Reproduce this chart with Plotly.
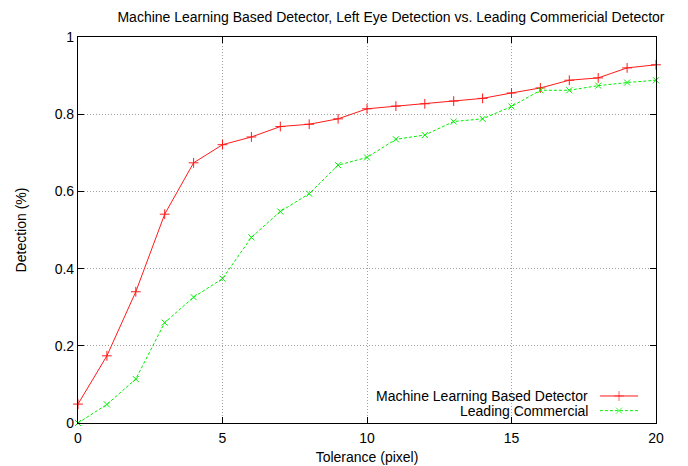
import plotly.graph_objects as go

# Tolerance in pixels and detection rates for each detector
tolerance = list(range(0, 21))
ml_detector = [0.049, 0.174, 0.340, 0.541, 0.674, 0.721, 0.741, 0.768, 0.774, 0.788,
               0.814, 0.821, 0.827, 0.834, 0.841, 0.855, 0.868, 0.888, 0.894, 0.920, 0.928]
commercial = [0.000, 0.048, 0.114, 0.260, 0.326, 0.374, 0.481, 0.548, 0.594, 0.668,
              0.688, 0.735, 0.746, 0.781, 0.788, 0.820, 0.862, 0.862, 0.874, 0.882, 0.888]

x_ticks = [0, 5, 10, 15, 20]
y_ticks = [0, 0.2, 0.4, 0.6, 0.8, 1]
y_tick_text = ["0", "0.2", "0.4", "0.6", "0.8", "1"]

series_names = ["Machine Learning Based Detector", "Leading Commercial"]
RED = "#ff1a1a"
GREEN = "#00ee00"
FONT = "Liberation Sans, Arial, sans-serif"
FS = 14

fig = go.Figure()
fig.add_trace(go.Scatter(
    x=tolerance, y=ml_detector, mode="lines+markers", name=series_names[0],
    line=dict(color=RED, width=1),
    marker=dict(symbol="cross-thin-open", size=7, line=dict(color=RED, width=1)),
    showlegend=False, cliponaxis=False))
fig.add_trace(go.Scatter(
    x=tolerance, y=commercial, mode="lines+markers", name=series_names[1],
    line=dict(color=GREEN, width=1, dash="3px,2px"),
    marker=dict(symbol="x-thin-open", size=6, line=dict(color=GREEN, width=1)),
    showlegend=False, cliponaxis=False))

# Key in the lower right: right-aligned labels with line samples on the right
key_rows = [0.070, 0.032]
key_styles = [(RED, None, "cross-thin-open", 7), (GREEN, "3px,2px", "x-thin-open", 6)]
for name, yk, (col, dash, sym, ms) in zip(series_names, key_rows, key_styles):
    fig.add_trace(go.Scatter(
        x=[0.903, 0.936, 0.969], y=[yk, yk, yk], xaxis="x2", yaxis="y2",
        mode="lines+markers", showlegend=False, hoverinfo="skip",
        line=dict(color=col, width=1, dash=dash),
        marker=dict(symbol=sym, size=[0, ms, 0], line=dict(color=col, width=1))))
    fig.add_annotation(x=0.886, y=yk, xref="paper", yref="paper", text=name,
                       showarrow=False, xanchor="right", yanchor="middle",
                       font=dict(family=FONT, size=FS, color="black"))

# Blank box behind the key interrupts the grid lines
fig.add_shape(type="rect", xref="paper", yref="paper", x0=0.49, x1=0.985,
              y0=0.012, y1=0.0907, fillcolor="white", line=dict(width=0),
              layer="between")

axis_common = dict(
    showline=True, linecolor="black", linewidth=1.2, mirror="ticks",
    ticks="inside", ticklen=6, tickcolor="black", tickwidth=1,
    showgrid=True, gridcolor="#a0a0a0", griddash="1px,2px", gridwidth=1,
    zeroline=False, automargin=False,
    tickfont=dict(family=FONT, size=FS, color="black"),
)

fig.update_layout(
    width=688, height=466,
    margin=dict(l=78, r=32, t=37, b=43),
    paper_bgcolor="white", plot_bgcolor="white",
    title=dict(text="Machine Learning Based Detector, Left Eye Detection vs. Leading Commericial Detector",
               xref="paper", x=0.5415, xanchor="center", y=0.963, yanchor="middle",
               font=dict(family=FONT, size=14, color="black")),
    xaxis=dict(range=[0, 20], tickvals=x_ticks, ticklabelstandoff=2,
               title=dict(text="Tolerance (pixel)", standoff=7,
                          font=dict(family=FONT, size=FS, color="black")),
               **axis_common),
    yaxis=dict(range=[0, 1], tickvals=y_ticks, ticktext=y_tick_text,
               title=dict(text="Detection (%)", standoff=24,
                          font=dict(family=FONT, size=FS, color="black")),
               **axis_common),
    xaxis2=dict(overlaying="x", range=[0, 1], visible=False),
    yaxis2=dict(overlaying="y", range=[0, 1], visible=False),
)

fig.write_html("out.html")
